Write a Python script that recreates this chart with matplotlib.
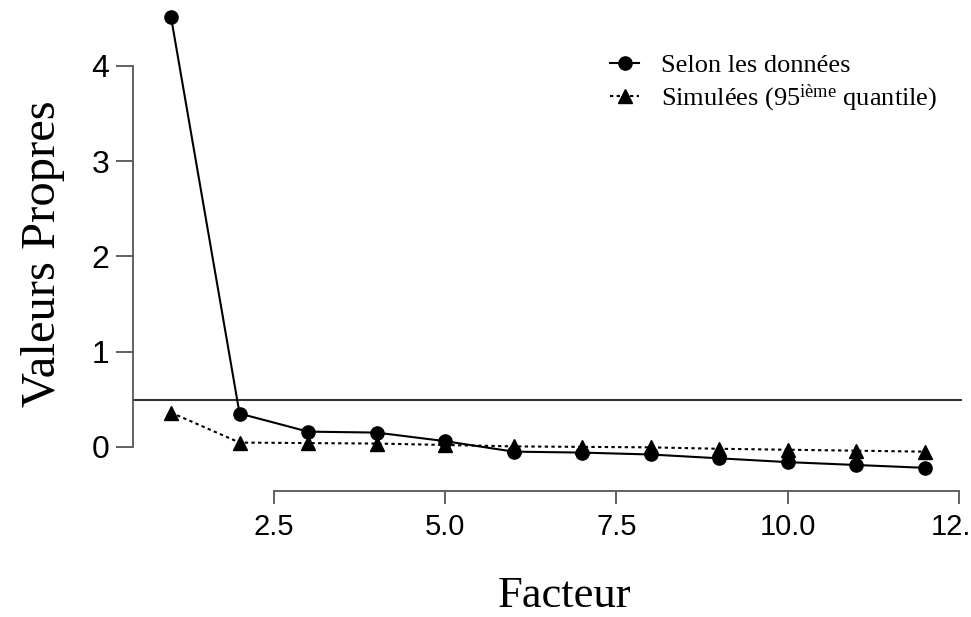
import matplotlib
matplotlib.use('Agg')
import matplotlib.pyplot as plt

# valeurs
facteurs = [1, 2, 3, 4, 5, 6, 7, 8, 9, 10, 11, 12]
donnees = [4.51, 0.35, 0.16, 0.15, 0.06, -0.05, -0.06, -0.08, -0.12, -0.16, -0.19, -0.22]
simulees = [0.36, 0.045, 0.04, 0.035, 0.02, 0.005, 0.0, -0.005, -0.02, -0.03, -0.04, -0.05]
seuil = 0.49
xticks = [2.5, 5.0, 7.5, 10.0, 12.5]
yticks = [0, 1, 2, 3, 4]

plt.rcParams['mathtext.fontset'] = 'custom'
plt.rcParams['mathtext.rm'] = 'Liberation Serif'
plt.rcParams['mathtext.it'] = 'Liberation Serif'

fig = plt.figure(figsize=(9.71, 6.17), dpi=100)
ax = fig.add_axes([0.137, 0.2047, 0.8537, 0.7844])

ax.axhline(seuil, color='#333333', lw=1.5, zorder=1)
ax.plot(facteurs, donnees, '-', color='black', lw=1.5, marker='o', markersize=9.5,
        label='Selon les données', zorder=3)
ax.plot(facteurs, simulees, color='black', lw=1.5, linestyle=(0, (1.6, 1.6)), marker='^',
        markersize=10.5, label=r'Simulées (95$^{\mathrm{ième}}$ quantile)', zorder=2)

ax.set_xlim(0.445, 12.545)
ax.set_ylim(-0.46, 4.62)

for s in ['top', 'right']:
    ax.spines[s].set_visible(False)
ax.spines['left'].set_bounds(0, 4)
ax.spines['bottom'].set_bounds(2.5, 12.5)
for s in ['left', 'bottom']:
    ax.spines[s].set_color('#555555')
    ax.spines[s].set_linewidth(1.3)

ax.set_xticks(xticks)
ax.set_xticklabels(['2.5', '5.0', '7.5', '10.0', '12.5'])
ax.set_yticks(yticks)
ax.tick_params(axis='y', length=12, width=1.3, color='#555555', pad=5,
               labelsize=23, labelfontfamily='Liberation Sans')
ax.tick_params(axis='x', length=9, width=1.3, color='#555555', pad=7,
               labelsize=21, labelfontfamily='Liberation Sans')

ax.set_xlabel('Facteur', fontsize=32, family='Liberation Serif')
ax.xaxis.set_label_coords(0.521, -0.176)
ax.set_ylabel('Valeurs Propres', fontsize=35, family='Liberation Serif')
ax.yaxis.set_label_coords(-0.082, 0.49)

ax.legend(loc='upper left', bbox_to_anchor=(610 / 971, 1 - 54 / 617),
          bbox_transform=fig.transFigure, frameon=False, borderpad=0,
          borderaxespad=0, handlelength=1.1, handletextpad=0.85, labelspacing=0.2,
          prop={'family': 'Liberation Serif', 'size': 19})

fig.savefig('out.png', dpi=100)
